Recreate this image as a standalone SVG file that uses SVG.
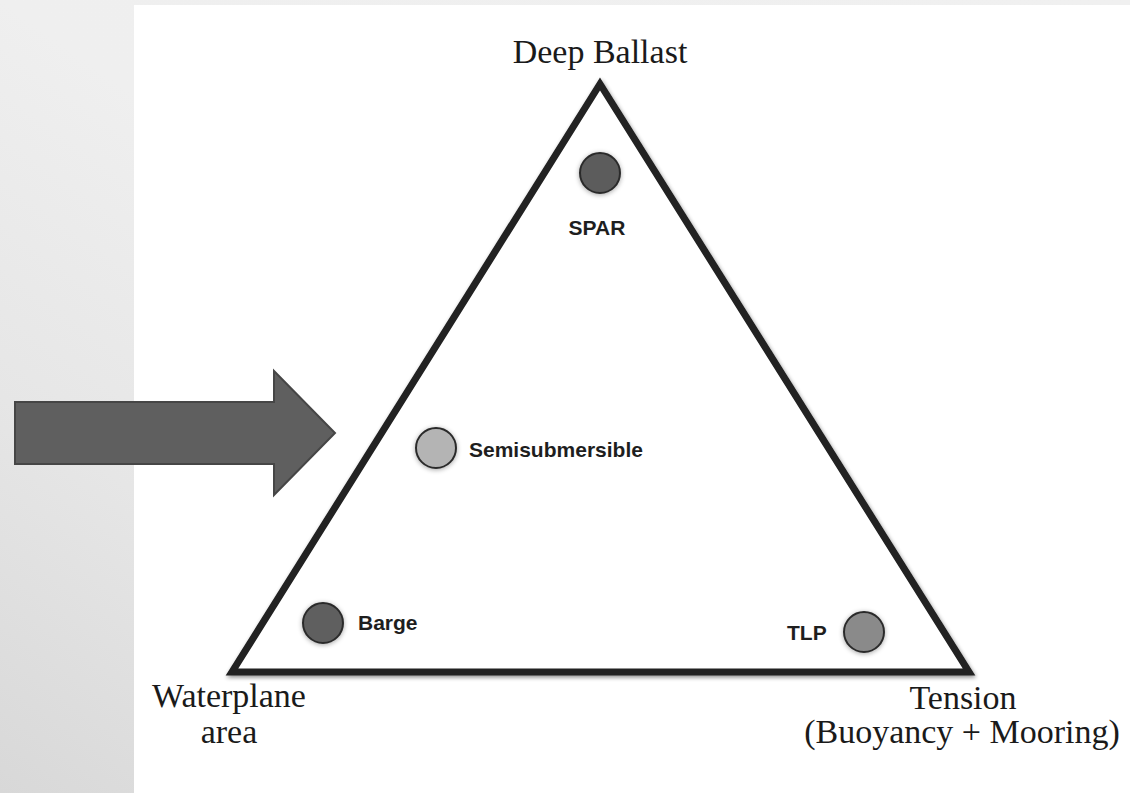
<svg xmlns="http://www.w3.org/2000/svg" width="1130" height="793" viewBox="0 0 1130 793">
  <defs>
    <linearGradient id="bgGrad" x1="1" y1="0" x2="0" y2="1">
      <stop offset="0" stop-color="#f0f0f0"/>
      <stop offset="0.5" stop-color="#efefef"/>
      <stop offset="0.75" stop-color="#e6e6e6"/>
      <stop offset="1" stop-color="#d8d8d8"/>
    </linearGradient>
    <filter id="softShadow" x="-10%" y="-10%" width="120%" height="120%">
      <feGaussianBlur in="SourceAlpha" stdDeviation="2.2"/>
      <feOffset dx="1" dy="2" result="blur"/>
      <feComponentTransfer>
        <feFuncA type="linear" slope="0.45"/>
      </feComponentTransfer>
      <feMerge>
        <feMergeNode/>
        <feMergeNode in="SourceGraphic"/>
      </feMerge>
    </filter>
    <filter id="dotShadow" x="-40%" y="-40%" width="180%" height="180%">
      <feGaussianBlur in="SourceAlpha" stdDeviation="2.5"/>
      <feOffset dx="0" dy="1"/>
      <feComponentTransfer>
        <feFuncA type="linear" slope="0.35"/>
      </feComponentTransfer>
      <feMerge>
        <feMergeNode/>
        <feMergeNode in="SourceGraphic"/>
      </feMerge>
    </filter>
  </defs>
  <style>
    .corner { font-family: "Liberation Serif", "Times New Roman", serif; font-size: 34px; fill: #1a1a1a; text-anchor: middle; }
    .type { font-family: "Liberation Sans", Arial, sans-serif; font-size: 21px; font-weight: bold; fill: #1e1e1e; }
    .dot { stroke: #2c2c2c; stroke-width: 2; filter: url(#dotShadow); }
  </style>

  <!-- page background -->
  <rect x="0" y="0" width="1130" height="793" fill="url(#bgGrad)"/>
  <rect x="134" y="5" width="996" height="788" fill="#ffffff"/>

  <!-- big pointer arrow -->
  <g id="pointer">
    <polygon points="15,402 274,402 274,371 335,433 274,495 274,464 15,464" fill="#5f5f5f" stroke="#464646" stroke-width="2"/>
  </g>

  <!-- stability triangle -->
  <g id="triangle">
    <polygon points="600,84 232,672 969,672" fill="#ffffff" stroke="#202020" stroke-width="7" stroke-linejoin="miter" stroke-miterlimit="10" filter="url(#softShadow)"/>
  </g>

  <!-- corner labels -->
  <g id="deep-ballast">
    <text class="corner" x="600" y="63">Deep Ballast</text>
  </g>
  <g id="waterplane-area">
    <text class="corner" x="229" y="707">Waterplane</text>
    <text class="corner" x="229" y="743">area</text>
  </g>
  <g id="tension">
    <text class="corner" x="963" y="709">Tension</text>
    <text class="corner" x="962" y="743">(Buoyancy + Mooring)</text>
  </g>

  <!-- platform types -->
  <g id="spar">
    <circle class="dot" cx="600" cy="173" r="20" fill="#5b5b5b"/>
    <text class="type" x="597" y="235" text-anchor="middle" font-size="23">SPAR</text>
  </g>
  <g id="semisubmersible">
    <circle class="dot" cx="436" cy="448" r="20" fill="#b4b4b4"/>
    <text class="type" x="469" y="457">Semisubmersible</text>
  </g>
  <g id="barge">
    <circle class="dot" cx="323" cy="623" r="20" fill="#5e5e5e"/>
    <text class="type" x="358" y="630">Barge</text>
  </g>
  <g id="tlp">
    <circle class="dot" cx="864" cy="632" r="20" fill="#8a8a8a"/>
    <text class="type" x="787" y="640">TLP</text>
  </g>

  <!-- connectors: none drawn in this figure -->
  <g id="connectors"/>
</svg>
